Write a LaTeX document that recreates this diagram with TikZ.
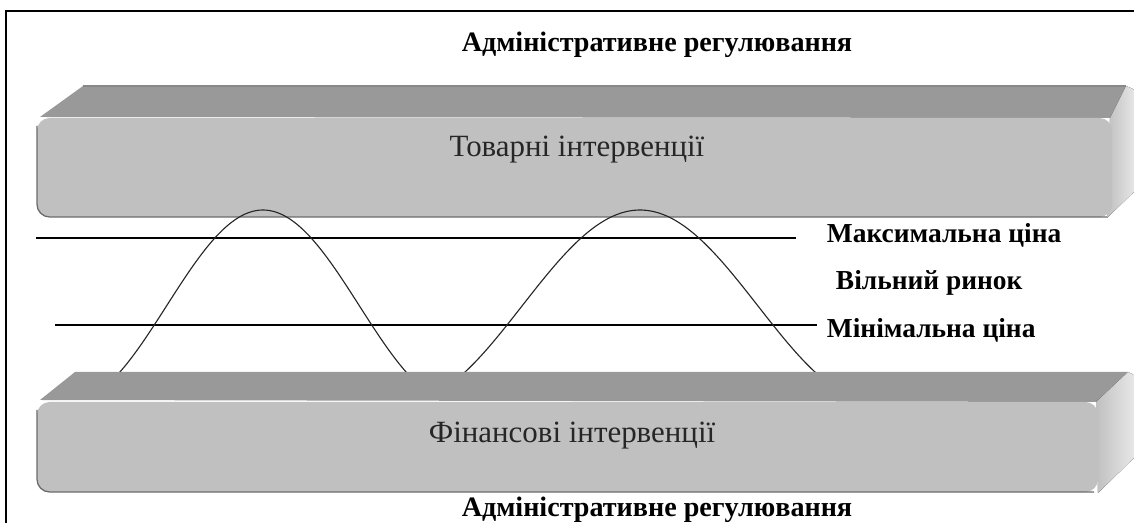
\documentclass[tikz,border=0pt]{standalone}
\usepackage{fontspec}
\setmainfont{Liberation Serif}
\usepackage{tikz}
\usetikzlibrary{positioning}

\definecolor{barfront}{HTML}{C0C0C0}
\definecolor{bartop}{HTML}{999999}
\definecolor{barside}{HTML}{E2E2E2}
\definecolor{baredge}{HTML}{6A6A6A}

\tikzset{
    frontface/.style={fill=barfront, rounded corners=9},
    topface/.style={fill=bartop},
    sideface/.style={left color=barside!85!black, right color=barside!60!white},
    edgeline/.style={draw=baredge, line width=0.9pt, rounded corners=9},
    bartext/.style={anchor=base, text=black!85, font=\fontsize{22}{26}\selectfont},
    regtext/.style={anchor=base, font=\bfseries\fontsize{20}{24}\selectfont},
    pricetext/.style={anchor=base west, font=\bfseries\fontsize{19.5}{23}\selectfont},
    priceline/.style={line width=1pt},
    wave/.style={line width=0.8pt, black!85}
}

\begin{document}
\begin{tikzpicture}[x=0.025cm, y=-0.025cm]
            \useasboundingbox (0,0) rectangle (1134,523);
            \clip (0,0) rectangle (1134,523);
            % frame
            \draw[line width=1.1pt] (6,523) -- (6,11) -- (1134,11);

            % upper bar
            \fill[topface] (40,117) -- (83,86) -- (1126,86) -- (1112,118) -- cycle;
            \draw[baredge!80, line width=0.8pt] (83,86) -- (1126,86);
            \fill[sideface] (1110,118) -- (1126,86) [rounded corners=6] -- (1140,92) -- (1140,186) [sharp corners] -- (1107,218) -- cycle;
            \fill[frontface] (37,118) rectangle (1112,217);
            \draw[edgeline] (37,126) -- (37,217) -- (1107,217);

            % price lines
            \coordinate (maxL) at (36,238);
            \coordinate (maxR) at (796,238);
            \coordinate (minL) at (55,325);
            \coordinate (minR) at (817,325);
            \draw[priceline] (maxL) -- (maxR);
            \draw[priceline] (minL) -- (minR);

            % price wave
            \draw[wave] plot[domain=110:412, samples=90, smooth] (\x,{306-96*cos(0.93264*(\x-263))});
            \draw[wave] plot[domain=452:820, samples=90, smooth] (\x,{306-96*cos(0.76271*(\x-640))});

            % lower bar
            \fill[topface] (40,400) -- (75,372) -- (1128,372) -- (1098,402) -- cycle;
            \fill[sideface] (1096,402) -- (1128,372) [rounded corners=6] -- (1140,378) -- (1140,452) [sharp corners] -- (1098,493) -- cycle;
            \fill[frontface] (37,402) rectangle (1098,492);
            \draw[edgeline] (37,410) -- (37,492) -- (1094,492);

            % texts
            \node[bartext] (goods) at (577,157) {Товарні інтервенції};
            \node[bartext] (finance) at (572,443) {Фінансові інтервенції};
            \node[regtext] (regtop) at (657,52) {Адміністративне регулювання};
            \node[regtext] (regbottom) at (657,517) {Адміністративне регулювання};
            \node[pricetext] (maxprice) at (822,243) {Максимальна ціна};
            \node[pricetext] (freemarket) at (831,290) {Вільний ринок};
            \node[pricetext] (minprice) at (822,338) {Мінімальна ціна};
        \end{tikzpicture}
\end{document}
